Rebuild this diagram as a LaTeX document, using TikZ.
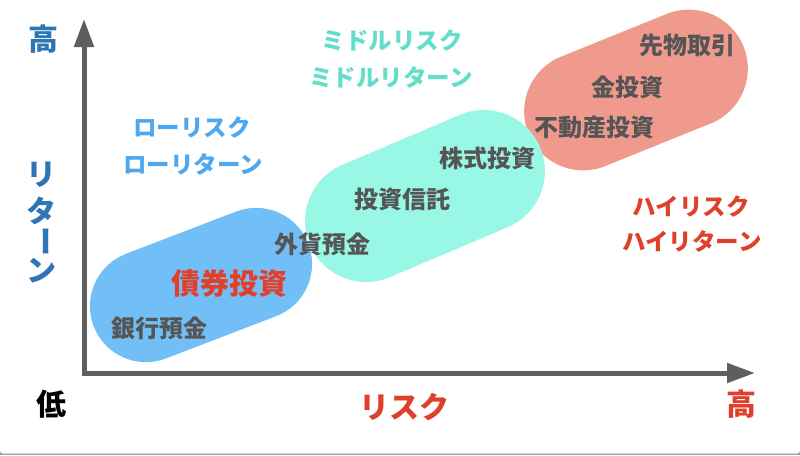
\documentclass[tikz,border=0pt]{standalone}
\usepackage{fontspec}
\setmainfont{Noto Sans CJK JP}
\usetikzlibrary{shapes.misc,arrows.meta}
\definecolor{axisgrey}{HTML}{5E5E5E}
\definecolor{axisblue}{HTML}{2E75B6}
\definecolor{lowblue}{HTML}{4EA8F0}
\definecolor{midteal}{HTML}{62DEC9}
\definecolor{hired}{HTML}{E0402A}
\definecolor{itemgrey}{HTML}{555555}
\definecolor{blobblue}{HTML}{72BFF7}
\definecolor{blobcyan}{HTML}{99F7E6}
\definecolor{blobsalmon}{HTML}{F09A8D}
\tikzset{
  blob/.style={rounded rectangle, inner sep=0pt, draw=none},
  item/.style={font=\fontsize{24}{24}\selectfont\bfseries, text=itemgrey, inner sep=0pt, yshift=3.5pt},
  zone/.style={font=\fontsize{23.5}{23.5}\selectfont\bfseries, inner sep=0pt, yshift=3.5pt},
  axislabel/.style={font=\fontsize{30}{30}\selectfont\bfseries, inner sep=0pt, yshift=3.5pt},
}
\begin{document}
\begin{tikzpicture}[x=1pt,y=-1pt]
\fill[axisgrey!60] (0,446) rectangle (800,450);
\fill[white, rounded corners=3pt] (0,-5) rectangle (800,448.6);
\useasboundingbox (0,0) rectangle (800,450);
% blobs
\node[blob, fill=blobsalmon, minimum width=232pt, minimum height=118pt, rotate=22] (bsalmon) at (636,85) {};
\node[blob, fill=blobcyan, minimum width=250pt, minimum height=122pt, rotate=23] (bcyan) at (425,191) {};
\node[blob, fill=blobblue, minimum width=230pt, minimum height=112pt, rotate=21] (bblue) at (201,280) {};
% axes
\coordinate (ytop) at (84,14);
\coordinate (origin) at (84,368);
\coordinate (xend) at (755,368);
\draw[axisgrey, line width=5pt, line join=miter,
  {Triangle[length=28pt,width=19pt]}-{Triangle[length=28pt,width=19pt]}] (ytop) -- (origin) -- (xend);
% axis labels
\node[axislabel, text=axisblue] (yhigh) at (43,38) {高};
\node[axislabel, text=axisblue] (r1) at (42,173) {リ};
\node[axislabel, text=axisblue] (r2) at (42,209) {タ};
\node[axislabel, text=axisblue, rotate=-90, yshift=0pt] (r3) at (42,240) {ー};
\node[axislabel, text=axisblue] (r4) at (42,269) {ン};
\node[axislabel, text=black] (xlow) at (51,403) {低};
\node[axislabel, text=hired] (xrisk) at (404,406) {リスク};
\node[axislabel, text=hired] (xhigh) at (741,403) {高};
% zone labels
\node[zone, text=lowblue] (lr1) at (192,126) {ローリスク};
\node[zone, text=lowblue] (lr2) at (193,163) {ローリターン};
\node[zone, text=midteal] (mr1) at (392,39) {ミドルリスク};
\node[zone, text=midteal] (mr2) at (391,76) {ミドルリターン};
\node[zone, text=hired] (hr1) at (691,205) {ハイリスク};
\node[zone, text=hired] (hr2) at (692,240) {ハイリターン};
% items
\node[item] (i1) at (159,327) {銀行預金};
\node[item, font=\fontsize{29}{29}\selectfont\bfseries, text=hired] (i2) at (229,282) {債券投資};
\node[item] (i3) at (322,243) {外貨預金};
\node[item] (i4) at (402,198) {投資信託};
\node[item] (i5) at (487,157) {株式投資};
\node[item] (i6) at (594,126) {不動産投資};
\node[item] (i7) at (627,86) {金投資};
\node[item] (i8) at (687,44) {先物取引};
\end{tikzpicture}
\end{document}
